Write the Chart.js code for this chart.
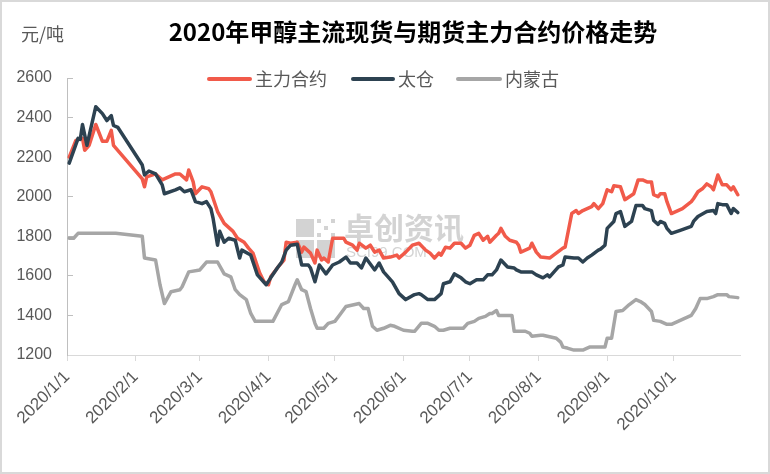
<!DOCTYPE html>
<html>
<head>
<meta charset="utf-8">
<title>2020年甲醇主流现货与期货主力合约价格走势</title>
<script src="https://cdn.jsdelivr.net/npm/chart.js@4/dist/chart.umd.min.js"></script>
<style>
    body { margin: 0; background: #fff; }
    canvas { display: block; }
</style>
</head>
<body>
<canvas id="priceChart" width="770" height="474"></canvas>
<script>
// days counted from 2020/1/1 (day 0)
const seriesNames = ['主力合约', '太仓', '内蒙古'];
const seriesColors = ['#f15a4a', '#2d4251', '#a6a6a6'];

const zlDays = [1, 4, 7, 8, 10, 13, 16, 18, 20, 21, 34, 35, 36, 40, 43, 49, 51, 54, 55, 57, 58, 61, 64, 65, 68, 71, 75, 77, 80, 82, 84, 87, 89, 91, 92, 95, 98, 99, 101, 104, 106, 107, 110, 112, 113, 115, 116, 118, 120, 125, 126, 129, 131, 132, 135, 137, 139, 141, 143, 146, 149, 150, 153, 156, 159, 162, 164, 166, 168, 169, 171, 173, 175, 178, 180, 182, 184, 186, 188, 190, 191, 194, 195, 196, 198, 200, 203, 204, 205, 207, 209, 210, 212, 214, 218, 221, 224, 225, 228, 230, 231, 233, 236, 237, 238, 240, 242, 244, 246, 247, 250, 252, 256, 258, 260, 262, 264, 265, 267, 268, 270, 271, 273, 278, 282, 283, 285, 287, 289, 291, 292, 294, 296, 298, 300, 301, 303];
const zlVals = [2200, 2285, 2295, 2235, 2260, 2365, 2280, 2280, 2335, 2260, 2090, 2050, 2100, 2115, 2085, 2115, 2115, 2085, 2135, 2075, 2015, 2050, 2040, 2025, 1925, 1865, 1825, 1790, 1770, 1740, 1715, 1615, 1570, 1555, 1595, 1640, 1680, 1770, 1765, 1770, 1720, 1745, 1715, 1665, 1730, 1680, 1690, 1670, 1790, 1790, 1770, 1755, 1730, 1765, 1740, 1755, 1720, 1730, 1690, 1695, 1705, 1690, 1720, 1755, 1765, 1730, 1715, 1690, 1715, 1705, 1745, 1740, 1765, 1765, 1740, 1755, 1805, 1815, 1780, 1800, 1770, 1805, 1815, 1840, 1800, 1780, 1770, 1755, 1720, 1730, 1740, 1765, 1720, 1695, 1690, 1715, 1740, 1745, 1915, 1930, 1915, 1930, 1945, 1950, 1965, 1940, 1965, 2035, 2025, 2055, 2050, 1985, 2015, 2085, 2085, 2075, 2075, 2010, 2000, 2015, 2015, 1975, 1915, 1940, 1975, 1990, 2025, 2040, 2065, 2050, 2035, 2110, 2060, 2060, 2035, 2050, 2010];

const tcDays = [1, 5, 6, 7, 9, 13, 16, 18, 20, 21, 23, 34, 35, 37, 40, 43, 44, 49, 51, 53, 56, 58, 61, 63, 65, 66, 68, 69, 71, 73, 76, 78, 79, 83, 86, 90, 92, 95, 97, 99, 101, 104, 106, 109, 110, 112, 114, 117, 120, 123, 126, 128, 131, 133, 135, 139, 141, 143, 147, 150, 153, 156, 157, 159, 160, 163, 166, 169, 170, 173, 175, 178, 180, 182, 185, 188, 190, 192, 194, 196, 199, 202, 203, 205, 210, 212, 215, 217, 218, 222, 224, 225, 229, 231, 233, 235, 237, 240, 241, 243, 244, 247, 248, 250, 252, 255, 257, 260, 261, 264, 265, 267, 268, 270, 271, 273, 277, 282, 283, 285, 289, 292, 293, 294, 296, 298, 300, 301, 303];
const tcVals = [2170, 2295, 2290, 2365, 2260, 2455, 2420, 2385, 2410, 2360, 2350, 2160, 2110, 2130, 2115, 2060, 2015, 2035, 2045, 2025, 2035, 1975, 1965, 1975, 1940, 1890, 1755, 1825, 1770, 1790, 1780, 1690, 1730, 1705, 1605, 1555, 1590, 1640, 1670, 1730, 1755, 1760, 1655, 1655, 1640, 1570, 1655, 1610, 1655, 1670, 1695, 1665, 1665, 1640, 1690, 1630, 1665, 1620, 1570, 1510, 1480, 1500, 1505, 1510, 1505, 1480, 1480, 1510, 1560, 1570, 1610, 1590, 1570, 1560, 1580, 1580, 1605, 1605, 1630, 1680, 1645, 1640, 1630, 1620, 1620, 1605, 1590, 1605, 1595, 1645, 1655, 1695, 1690, 1690, 1670, 1690, 1705, 1730, 1735, 1755, 1840, 1875, 1915, 1925, 1850, 1875, 1955, 1955, 1940, 1930, 1880, 1860, 1875, 1865, 1840, 1815, 1830, 1850, 1875, 1900, 1925, 1930, 1915, 1965, 1960, 1960, 1915, 1940, 1920];

const nmDays = [1, 3, 5, 22, 34, 35, 40, 42, 44, 47, 51, 52, 55, 60, 63, 68, 71, 74, 76, 78, 81, 83, 85, 93, 97, 100, 103, 104, 106, 108, 110, 112, 113, 116, 118, 121, 123, 126, 130, 132, 134, 136, 138, 140, 143, 146, 148, 152, 156, 157, 160, 163, 166, 168, 170, 173, 179, 181, 184, 186, 189, 191, 192, 194, 195, 201, 202, 207, 209, 210, 214, 215, 217, 221, 223, 224, 226, 229, 233, 236, 243, 244, 246, 248, 251, 254, 257, 259, 261, 264, 265, 268, 271, 273, 277, 282, 284, 286, 289, 292, 294, 298, 299, 303];
const nmVals = [1790, 1790, 1815, 1815, 1800, 1690, 1680, 1555, 1460, 1520, 1530, 1545, 1620, 1630, 1670, 1670, 1610, 1595, 1530, 1505, 1480, 1410, 1370, 1370, 1455, 1470, 1555, 1580, 1530, 1520, 1435, 1360, 1335, 1335, 1360, 1370, 1400, 1445, 1455, 1460, 1435, 1435, 1345, 1325, 1335, 1350, 1345, 1325, 1320, 1320, 1360, 1360, 1345, 1325, 1325, 1335, 1335, 1360, 1370, 1385, 1395, 1410, 1410, 1425, 1400, 1400, 1320, 1320, 1310, 1295, 1300, 1300, 1295, 1285, 1265, 1240, 1235, 1225, 1225, 1240, 1240, 1285, 1285, 1420, 1425, 1455, 1480, 1470, 1455, 1420, 1375, 1370, 1355, 1355, 1375, 1400, 1435, 1485, 1485, 1495, 1505, 1505, 1495, 1490];

const monthStarts = [0, 31, 60, 91, 121, 152, 182, 213, 244, 274];
const tickLabels = ['2020/1/1', '2020/2/1', '2020/3/1', '2020/4/1', '2020/5/1', '2020/6/1', '2020/7/1', '2020/8/1', '2020/9/1', '2020/10/1'];
const yMin = 1200;
const yMax = 2600;
const yStep = 200;

const cjkFont = '"Noto Sans CJK SC", sans-serif';
const numFont = '"Liberation Sans", "Noto Sans", sans-serif';

function toPoints(days, vals) {
    return days.map((d, i) => ({ x: d, y: vals[i] }));
}

// title, unit, legend, watermark and frame
const decorPlugin = {
    id: 'decor',
    beforeDatasetsDraw(chart) {
        const ctx = chart.ctx;
        ctx.save();
        ctx.fillStyle = 'rgba(175,175,175,0.55)';
        ctx.fillRect(296, 219, 18, 18);
        ctx.fillRect(296, 240, 18, 18);
        ctx.fillRect(317, 240, 18, 18);
        for (let r = 0; r < 3; r++) {
            for (let c = 0; c < 3; c++) {
                if ((r + c) % 2 === 0) ctx.fillRect(317 + c * 7, 219 + r * 7, 4, 4);
            }
        }
        ctx.font = 'bold 30px ' + cjkFont;
        ctx.textBaseline = 'middle';
        ctx.textAlign = 'left';
        ctx.fillText('卓创资讯', 344, 228);
        ctx.font = '15px ' + numFont;
        ctx.fillText('SCI99.COM', 346, 253);
        ctx.restore();
    },
    afterDraw(chart) {
        const ctx = chart.ctx;
        ctx.save();
        ctx.textBaseline = 'middle';

        ctx.fillStyle = '#000';
        ctx.textAlign = 'center';
        ctx.font = 'bold 24px ' + cjkFont;
        ctx.fillText('2020年甲醇主流现货与期货主力合约价格走势', 413, 32);

        ctx.fillStyle = '#595959';
        ctx.textAlign = 'left';
        ctx.font = '18px ' + cjkFont;
        ctx.fillText('元/吨', 21, 34);

        const legendItems = [
            { x1: 209, x2: 250, tx: 255 },
            { x1: 353, x2: 393, tx: 398 },
            { x1: 458, x2: 500, tx: 505 }
        ];
        legendItems.forEach((item, i) => {
            ctx.strokeStyle = seriesColors[i];
            ctx.lineWidth = 4;
            ctx.lineCap = 'round';
            ctx.beginPath();
            ctx.moveTo(item.x1, 79);
            ctx.lineTo(item.x2, 79);
            ctx.stroke();
            ctx.fillStyle = '#595959';
            ctx.fillText(seriesNames[i], item.tx, 79);
        });

        ctx.strokeStyle = '#d9d9d9';
        ctx.lineWidth = 2;
        ctx.strokeRect(1, 1, chart.width - 2, chart.height - 2);
        ctx.restore();
    }
};

const ctx = document.getElementById('priceChart').getContext('2d');

const lineStyle = {
    borderWidth: 3.5,
    pointRadius: 0,
    tension: 0,
    fill: false,
    borderJoinStyle: 'round',
    borderCapStyle: 'round'
};

const priceChart = new Chart(ctx, {
    type: 'line',
    data: {
        datasets: [
            Object.assign({ label: seriesNames[0], data: toPoints(zlDays, zlVals), borderColor: seriesColors[0], order: 3 }, lineStyle),
            Object.assign({ label: seriesNames[1], data: toPoints(tcDays, tcVals), borderColor: seriesColors[1], order: 2 }, lineStyle),
            Object.assign({ label: seriesNames[2], data: toPoints(nmDays, nmVals), borderColor: seriesColors[2], order: 1 }, lineStyle)
        ]
    },
    options: {
        responsive: false,
        animation: false,
        layout: {
            padding: { top: 78, right: 30, left: 0, bottom: 0 }
        },
        plugins: {
            legend: { display: false },
            title: { display: false },
            tooltip: { enabled: false }
        },
        scales: {
            x: {
                type: 'linear',
                min: 0,
                max: 304,
                afterFit: function(scale) {
                    scale.height = 119;
                },
                afterBuildTicks: function(scale) {
                    scale.ticks = monthStarts.map(v => ({ value: v }));
                },
                grid: {
                    drawOnChartArea: false,
                    drawTicks: true,
                    tickLength: 6,
                    color: '#d9d9d9'
                },
                border: { color: '#d9d9d9', width: 1 },
                ticks: {
                    autoSkip: false,
                    minRotation: 45,
                    maxRotation: 45,
                    padding: 6,
                    color: '#595959',
                    font: { family: numFont, size: 17 },
                    callback: function(value, index) {
                        return tickLabels[index];
                    }
                }
            },
            y: {
                min: yMin,
                max: yMax,
                afterFit: function(scale) {
                    scale.width = 67;
                },
                grid: {
                    drawOnChartArea: false,
                    drawTicks: true,
                    tickLength: -6,
                    color: '#bfbfbf'
                },
                border: { color: '#bfbfbf', width: 1 },
                ticks: {
                    stepSize: yStep,
                    padding: 21,
                    color: '#595959',
                    font: { family: numFont, size: 16 },
                    callback: function(value) {
                        return String(value);
                    }
                }
            }
        }
    },
    plugins: [decorPlugin]
});
</script>
</body>
</html>
